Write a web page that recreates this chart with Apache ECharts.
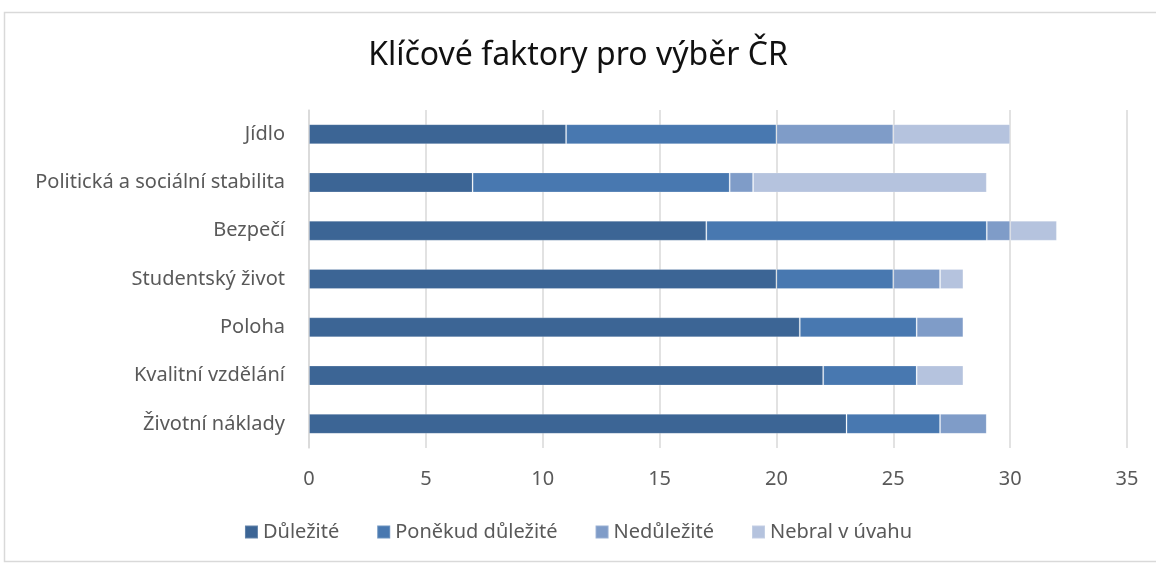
<!DOCTYPE html>
<html>
<head>
<meta charset="utf-8">
<script src="https://cdn.jsdelivr.net/npm/echarts@6/dist/echarts.min.js"></script>
<style>
  html, body { margin: 0; padding: 0; background: #fff; }
  #chart { width: 1156px; height: 566px; }
</style>
</head>
<body>
<div id="chart"></div>
<script>
// kategorie odspodu nahoru
const categories = [
  "Životní náklady",
  "Kvalitní vzdělání",
  "Poloha",
  "Studentský život",
  "Bezpečí",
  "Politická a sociální stabilita",
  "Jídlo",
];
const seriesNames = ["Důležité", "Poněkud důležité", "Nedůležité", "Nebral v úvahu"];
const dulezite = [23, 22, 21, 20, 17, 7, 11];
const ponekud = [4, 4, 5, 5, 12, 11, 9];
const nedulezite = [2, 0, 2, 2, 1, 1, 5];
const nebral = [0, 2, 0, 1, 2, 10, 5];
const colors = ["#3c6595", "#4878b0", "#7f9cc8", "#b5c3de"];

const font = "'Noto Sans', sans-serif";
const myChart = echarts.init(document.getElementById("chart"));

const makeSeries = (name, data, i) => ({
  name,
  type: "bar",
  stack: "total",
  data,
  barWidth: 20,
  itemStyle: {
    color: colors[i],
    borderColor: "rgba(255,255,255,0.2)",
    borderWidth: 1,
  },
});

const option = {
  animation: false,
  textStyle: { fontFamily: font },
  graphic: [
    {
      type: "rect",
      shape: { x: 4.5, y: 12.5, width: 1200, height: 549 },
      style: { fill: "none", stroke: "#d9d9d9", lineWidth: 1.5 },
      silent: true,
    },
  ],
  title: {
    text: "Klíčové faktory pro výběr ČR",
    left: "center",
    top: 35,
    textStyle: { fontFamily: font, fontSize: 32, fontWeight: "normal", color: "#111" },
  },
  legend: {
    bottom: 19,
    left: "center",
    icon: "rect",
    itemWidth: 13,
    itemHeight: 13,
    itemGap: 37,
    textStyle: { fontFamily: font, fontSize: 20, color: "#595959" },
    data: seriesNames,
  },
  grid: { left: 309, right: 29, top: 110, bottom: 118, containLabel: false },
  xAxis: {
    type: "value",
    min: 0,
    max: 35,
    interval: 5,
    axisLine: { show: false },
    axisTick: { show: false },
    axisLabel: { color: "#595959", fontSize: 20, margin: 21, fontFamily: font },
    splitLine: { lineStyle: { color: "#d9d9d9", width: 1.5 } },
  },
  yAxis: {
    type: "category",
    data: categories,
    axisLine: { show: true, lineStyle: { color: "#d9d9d9", width: 1.5 } },
    axisTick: { show: false },
    axisLabel: { color: "#595959", fontSize: 20, margin: 24, fontFamily: font },
  },
  series: [
    makeSeries(seriesNames[0], dulezite, 0),
    makeSeries(seriesNames[1], ponekud, 1),
    makeSeries(seriesNames[2], nedulezite, 2),
    makeSeries(seriesNames[3], nebral, 3),
  ],
};

myChart.setOption(option);
window.addEventListener("resize", () => {
  myChart.resize();
});
</script>
</body>
</html>
